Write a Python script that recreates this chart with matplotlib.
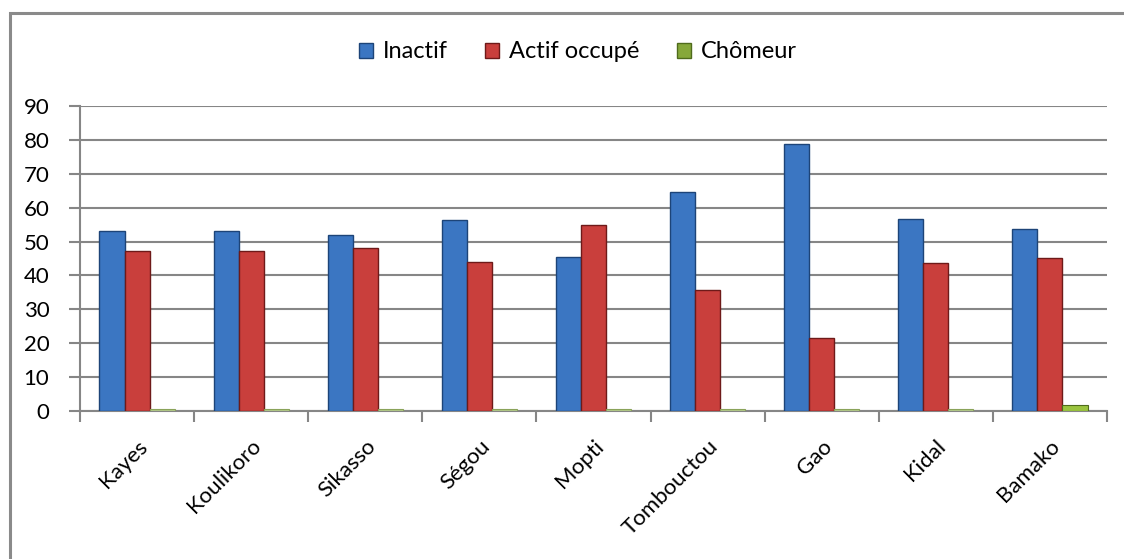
import matplotlib
matplotlib.use('Agg')
import matplotlib.pyplot as plt
import numpy as np
from matplotlib.patches import Rectangle

regions = ['Kayes', 'Koulikoro', 'Sikasso', 'Ségou', 'Mopti',
           'Tombouctou', 'Gao', 'Kidal', 'Bamako']
inactif = [53.1, 53.0, 51.9, 56.5, 45.4, 64.6, 78.7, 56.6, 53.6]
actif_occupe = [47.2, 47.1, 48.2, 43.9, 54.8, 35.6, 21.4, 43.6, 45.1]
chomeur = [0.7, 0.7, 0.7, 0.7, 0.7, 0.7, 0.7, 0.7, 1.9]

plt.rcParams['font.family'] = ['Lato', 'DejaVu Sans']

fig = plt.figure(figsize=(11.24, 5.59), dpi=100)
ax = fig.add_axes([80/1124, 1-411/559, 1027/1124, 305/559])

# cadre gris autour du graphique
fig.patches.append(Rectangle((10/1124, -0.1), 1.2, 1 - 13/559 + 0.1,
                             transform=fig.transFigure, fill=False,
                             edgecolor='#8a8a8a', linewidth=2.2))

x = np.arange(len(regions))
width = 0.22
b1 = ax.bar(x - width, inactif, width, color='#3b76c2', edgecolor='#1d4478',
            linewidth=1.0, label='Inactif', zorder=3)
b2 = ax.bar(x, actif_occupe, width, color='#c93f3c', edgecolor='#6e1a19',
            linewidth=1.0, label='Actif occupé', zorder=3)
b3 = ax.bar(x + width, chomeur, width, color='#b3c98a', edgecolor='#8aa35a',
            linewidth=0.8, label='Chômeur', zorder=3)
b3[-1].set_color('#9bc43f')
b3[-1].set_edgecolor('#4f6b1c')

ax.set_xlim(-0.5, len(regions) - 0.5)
ax.set_ylim(0, 90)
ax.set_yticks(np.arange(0, 91, 10))
ax.yaxis.grid(True, color='#868686', linewidth=1.5, zorder=0)
ax.tick_params(axis='y', length=8, color='#868686', width=1.5,
               labelsize=16, pad=14)

ax.set_xticks(np.arange(-0.5, len(regions), 1.0), minor=False)
ax.set_xticklabels([])
ax.set_xticks(x, minor=True)
ax.set_xticklabels(regions, minor=True, rotation=45, ha='right',
                   rotation_mode='anchor', fontsize=16)
ax.tick_params(axis='x', which='major', length=8, color='#868686', width=1.5)
ax.tick_params(axis='x', which='minor', length=0, pad=18)

for s in ['top', 'right']:
    ax.spines[s].set_visible(False)
for s in ['left', 'bottom']:
    ax.spines[s].set_color('#868686')
    ax.spines[s].set_linewidth(1.5)

handles = [Rectangle((0, 0), 1, 1, facecolor='#3b76c2', edgecolor='#1d4478'),
           Rectangle((0, 0), 1, 1, facecolor='#c93f3c', edgecolor='#6e1a19'),
           Rectangle((0, 0), 1, 1, facecolor='#86a83a', edgecolor='#4f6b1c')]
fig.legend(handles, ['Inactif', 'Actif occupé', 'Chômeur'], loc='center',
           bbox_to_anchor=(0.514, 1 - 52/559), ncol=3, frameon=False,
           fontsize=17, handlelength=0.6, handleheight=0.6,
           handletextpad=0.4, columnspacing=1.6)

fig.savefig('out.png', dpi=100)
